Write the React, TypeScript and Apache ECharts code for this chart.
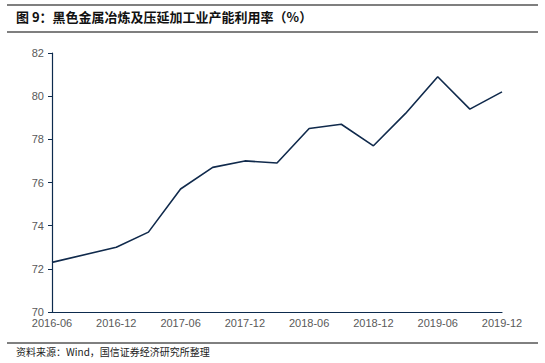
import React, { useEffect, useRef } from "react";
import * as echarts from "echarts";

const categories = [
  "2016-06", "2016-09", "2016-12", "2017-03", "2017-06", "2017-09", "2017-12",
  "2018-03", "2018-06", "2018-09", "2018-12", "2019-03", "2019-06", "2019-09", "2019-12",
];
const utilization: (number | null)[] = [
  72.3, null, 73.0, 73.7, 75.7, 76.7, 77.0, 76.9, 78.5, 78.7, 77.7, 79.2, 80.9, 79.4, 80.2,
];
const titleText = "图 9：黑色金属冶炼及压延加工业产能利用率（%）";
const sourceText = "资料来源：Wind，国信证券经济研究所整理";

export default function App() {
  const ref = useRef<HTMLDivElement>(null);
  useEffect(() => {
    if (!ref.current) return;
    const chart = echarts.init(ref.current, null, { renderer: "svg" });
    const axisColor = "#0d2b4e";
    const labelColor = "#595959";
    chart.setOption({
      animation: false,
      backgroundColor: "#ffffff",
      grid: { left: 52, right: 43, top: 53, bottom: 51, containLabel: false },
      xAxis: {
        type: "category",
        data: categories,
        boundaryGap: false,
        axisLine: { lineStyle: { color: axisColor, width: 1.2 } },
        axisTick: { show: false },
        axisLabel: {
          interval: 1,
          color: labelColor,
          fontSize: 11,
          fontFamily: "Liberation Sans, Arial, sans-serif",
          margin: 5,
        },
        splitLine: { show: false },
      },
      yAxis: {
        type: "value",
        min: 70,
        max: 82,
        interval: 2,
        axisLine: { show: true, lineStyle: { color: axisColor, width: 1.2 } },
        axisTick: { show: true, length: 4, lineStyle: { color: axisColor } },
        axisLabel: {
          color: labelColor,
          fontSize: 11,
          fontFamily: "Liberation Sans, Arial, sans-serif",
          margin: 8,
        },
        splitLine: { show: false },
      },
      series: [
        {
          type: "line",
          data: utilization,
          connectNulls: true,
          symbol: "none",
          lineStyle: { color: "#102a4c", width: 1.6 },
        },
      ],
      graphic: [
        { type: "line", shape: { x1: 7, y1: 5, x2: 538, y2: 5 }, style: { stroke: "#000", lineWidth: 1.2 } },
        { type: "line", shape: { x1: 7, y1: 32, x2: 538, y2: 32 }, style: { stroke: "#000", lineWidth: 1.2 } },
        {
          type: "text",
          left: 16,
          top: 10,
          style: {
            text: titleText,
            fill: "#111",
            font: "bold 13px 'Noto Sans CJK SC', sans-serif",
          },
        },
        { type: "line", shape: { x1: 7, y1: 343, x2: 538, y2: 343 }, style: { stroke: "#000", lineWidth: 1 } },
        {
          type: "text",
          left: 16,
          top: 346,
          style: {
            text: sourceText,
            fill: "#222",
            font: "10px 'Noto Sans CJK SC', sans-serif",
          },
        },
      ],
    });
    return () => chart.dispose();
  }, []);
  return <div ref={ref} style={{ width: 545, height: 363, position: "absolute", left: 0, top: 0 }} />;
}
